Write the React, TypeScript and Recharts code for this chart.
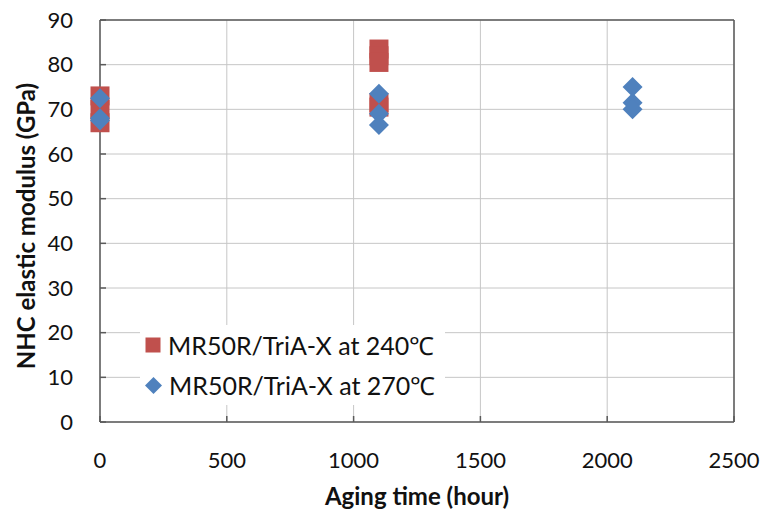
import React from 'react';
import {
  ScatterChart,
  Scatter,
  XAxis,
  YAxis,
  CartesianGrid,
  ReferenceLine,
  Legend,
} from 'recharts';

// aging time (hour) and modulus (GPa)
const hours240 = [0, 0, 0, 1100, 1100, 1100, 1100, 1100];
const modulus240 = [73, 70, 67, 83.5, 82, 80.5, 71.5, 70.5];

const hours270 = [0, 0, 0, 1100, 1100, 1100, 2100, 2100, 2100];
const modulus270 = [72.5, 68, 67.5, 73.5, 69, 66.5, 75, 71.5, 70];

const xTicks = [0, 500, 1000, 1500, 2000, 2500];
const yTicks = [0, 10, 20, 30, 40, 50, 60, 70, 80, 90];

const seriesNames = ['MR50R/TriA-X at 240℃', 'MR50R/TriA-X at 270℃'];

const RED = '#C0504D';
const BLUE = '#4F81BD';
const AXIS = '#5a5a5a';
const GRID = '#c6c6c6';
const FONT = 'Lato, "Open Sans", sans-serif';

const data240 = hours240.map((h, i) => ({ hour: h, modulus: modulus240[i] }));
const data270 = hours270.map((h, i) => ({ hour: h, modulus: modulus270[i] }));

const SquareDot = (props: any) => {
  const { cx, cy } = props;
  const s = 19;
  return <rect x={cx - s / 2} y={cy - s / 2} width={s} height={s} fill={RED} />;
};

const DiamondDot = (props: any) => {
  const { cx, cy } = props;
  const r = 10;
  return (
    <polygon
      points={`${cx},${cy - r} ${cx + r},${cy} ${cx},${cy + r} ${cx - r},${cy}`}
      fill={BLUE}
    />
  );
};

const LegendIcon = ({ kind }: { kind: string }) =>
  kind === 'square' ? (
    <svg width={16} height={16}>
      <rect x={0.5} y={0.5} width={15} height={15} fill={RED} />
    </svg>
  ) : (
    <svg width={17} height={17}>
      <polygon points="8.5,0 17,8.5 8.5,17 0,8.5" fill={BLUE} />
    </svg>
  );

const renderLegend = () => (
  <div
    style={{
      background: '#fff',
      padding: '0 10px 0 5px',
      height: 80,
      fontFamily: FONT,
      fontSize: 25,
      color: '#111',
    }}
  >
    {seriesNames.map((name, i) => (
      <div key={name} style={{ display: 'flex', alignItems: 'center', height: 40 }}>
        <LegendIcon kind={i === 0 ? 'square' : 'diamond'} />
        <span style={{ marginLeft: 7, whiteSpace: 'nowrap' }}>{name}</span>
      </div>
    ))}
  </div>
);

const tickStyle = { fontSize: 22, fill: '#111', fontFamily: FONT };

export default function App() {
  return (
    <div style={{ position: 'absolute', left: 0, top: 0, width: 764, height: 512, background: '#fff' }}>
      <ScatterChart width={764} height={512} margin={{ top: 20, right: 30, left: 0, bottom: 0 }}>
        <CartesianGrid stroke={GRID} strokeWidth={1} />
        <XAxis
          type="number"
          dataKey="hour"
          domain={[0, 2500]}
          ticks={xTicks}
          height={90}
          stroke={AXIS}
          strokeWidth={1.5}
          tickSize={-6}
          tickMargin={36}
          tick={tickStyle}
          label={{
            content: () => (
              <text x={417} y={505} textAnchor="middle" fontFamily={FONT} fontWeight="bold" fontSize={24} fill="#111">
                Aging time (hour)
              </text>
            ),
          }}
        />
        <YAxis
          type="number"
          dataKey="modulus"
          domain={[0, 90]}
          ticks={yTicks}
          width={100}
          stroke={AXIS}
          strokeWidth={1.5}
          tickSize={-6}
          tickMargin={33}
          tick={tickStyle}
          label={{
            content: () => (
              <text
                x={25}
                y={226}
                transform="rotate(-90, 25, 226)"
                textAnchor="middle"
                dominantBaseline="central"
                fontFamily={FONT}
                fontWeight="bold"
                fontSize={24}
                fill="#111"
              >
                NHC elastic modulus (GPa)
              </text>
            ),
          }}
        />
        <ReferenceLine x={2500} stroke={AXIS} strokeWidth={1.5} />
        <ReferenceLine y={90} stroke={AXIS} strokeWidth={1.5} />
        <Legend
          layout="vertical"
          align="center"
          verticalAlign="middle"
          content={renderLegend}
          wrapperStyle={{ left: 140, top: 325, width: 'auto' }}
        />
        <Scatter name={seriesNames[0]} data={data240} shape={SquareDot} legendType="square" isAnimationActive={false} />
        <Scatter name={seriesNames[1]} data={data270} shape={DiamondDot} legendType="diamond" isAnimationActive={false} />
      </ScatterChart>
    </div>
  );
}
